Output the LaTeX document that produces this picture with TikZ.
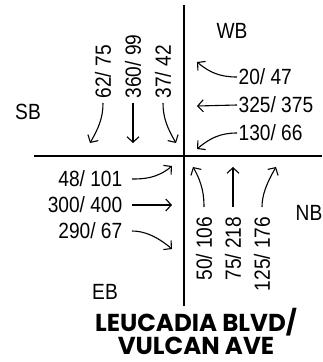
\documentclass[tikz,border=0pt]{standalone}
\usepackage{fontspec}
\newfontfamily\volfont{Liberation Sans}[FakeStretch=0.87]
\newfontfamily\titlefont{Poppins}
\usetikzlibrary{arrows.meta}

\begin{document}
\begin{tikzpicture}[x=1pt,y=1pt,
	vol/.style={font=\volfont\fontsize{22}{22}\selectfont, inner sep=1.5pt},
	dirlabel/.style={font=\volfont\fontsize{22}{22}\selectfont, inner sep=0pt},
	titletext/.style={font=\titlefont\bfseries\fontsize{24.5}{25}\selectfont, inner sep=0pt, text depth=0pt, anchor=base},
	street/.style={line width=1.8pt},
	flow/.style={line width=1.1pt, -{Straight Barb[length=5.5pt,width=12pt]}},
	gap/.style={shorten <=8pt}]
	\useasboundingbox (0,-362) rectangle (322,0);
	
	% streets
	\coordinate (ntop) at (184,-5);
	\coordinate (sbot) at (184,-306);
	\coordinate (wend) at (34,-156);
	\coordinate (eend) at (322,-156);
	\draw[street] (ntop) -- (sbot);
	\draw[street] (wend) -- (eend);
	
	% approach names
	\node[dirlabel] (wb) at (232,-31) {WB};
	\node[dirlabel] (sb) at (28,-112) {SB};
	\node[dirlabel] (nb) at (309,-213) {NB};
	\node[dirlabel] (eb) at (105,-292) {EB};
	
	% westbound
	\node[vol,anchor=west] (wbl) at (237,-77) {20/ 47};
	\node[vol,anchor=west] (wbt) at (237,-105) {325/ 375};
	\node[vol,anchor=west] (wbr) at (237,-133) {130/ 66};
	\coordinate (wbltip) at (197,-62);
	\coordinate (wbttip) at (197,-106);
	\coordinate (wbrtip) at (197,-149);
	\draw[flow] (wbl.west) to[out=180,in=-40] (wbltip);
	\draw[flow] (wbt.west) -- (wbttip);
	\draw[flow] (wbr.west) to[out=180,in=40] (wbrtip);
	
	% southbound
	\node[vol,rotate=90,anchor=west] (sbr) at (103,-100) {62/ 75};
	\node[vol,rotate=90,anchor=west] (sbt) at (133,-100) {360/ 99};
	\node[vol,rotate=90,anchor=west] (sbl) at (163,-100) {37/ 42};
	\coordinate (sbrtip) at (90,-143);
	\coordinate (sbttip) at (133,-143);
	\coordinate (sbltip) at (176,-143);
	\draw[flow,shorten <=3pt] (sbr.west) to[out=-90,in=60] (sbrtip);
	\draw[flow,shorten <=3pt] (sbt.west) -- (sbttip);
	\draw[flow,shorten <=3pt] (sbl.west) to[out=-90,in=120] (sbltip);
	
	% eastbound
	\node[vol,anchor=east] (ebl) at (124,-179) {48/ 101};
	\node[vol,anchor=east] (ebt) at (124,-205) {300/ 400};
	\node[vol,anchor=east] (ebr) at (124,-231) {290/ 67};
	\coordinate (ebltip) at (172,-166);
	\coordinate (ebttip) at (172,-205);
	\coordinate (ebrtip) at (172,-249);
	\draw[flow,gap] (ebl.east) to[out=0,in=-140] (ebltip);
	\draw[flow,gap] (ebt.east) -- (ebttip);
	\draw[flow,gap] (ebr.east) to[out=0,in=140] (ebrtip);
	
	% northbound
	\node[vol,rotate=90,anchor=east] (nbl) at (204,-215) {50/ 106};
	\node[vol,rotate=90,anchor=east] (nbt) at (233,-215) {75/ 218};
	\node[vol,rotate=90,anchor=east] (nbr) at (262,-215) {125/ 176};
	\coordinate (nbltip) at (193,-167);
	\coordinate (nbttip) at (233,-167);
	\coordinate (nbrtip) at (276,-167);
	\draw[flow,gap] (nbl.east) to[out=90,in=-60] (nbltip);
	\draw[flow,gap] (nbt.east) -- (nbttip);
	\draw[flow,gap] (nbr.east) to[out=90,in=-120] (nbrtip);
	
	% intersection name
	\node[titletext] (title1) at (196,-331) {LEUCADIA BLVD/};
	\node[titletext] (title2) at (196,-354) {VULCAN AVE};
\end{tikzpicture}
\end{document}
